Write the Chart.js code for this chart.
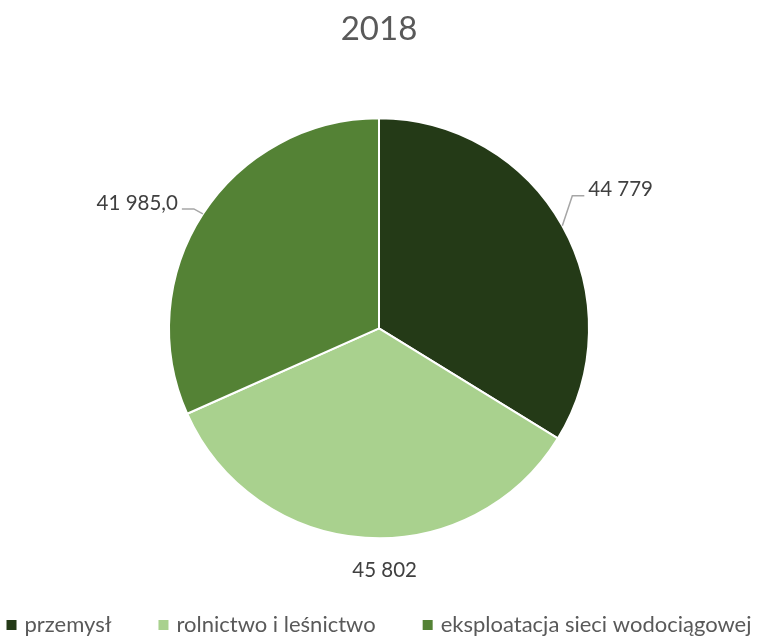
<!DOCTYPE html>
<html><head><meta charset="utf-8">
<script src="https://cdn.jsdelivr.net/npm/chart.js@4"></script>
<style>html,body{margin:0;padding:0;background:#fff}canvas{display:block}</style>
</head><body>
<canvas id="c" width="758" height="637"></canvas>
<script>
const chartTitle = '2018';
const categories = ['przemysł', 'rolnictwo i leśnictwo', 'eksploatacja sieci wodociągowej'];
const values = [44779, 45802, 41985.0];
const valueDecimals = [0, 0, 1];
const colors = ['#243A17', '#A9D18E', '#548235'];

const FONT = 'Lato, "Open Sans", sans-serif';

function formatPL(v, dec) {
  const parts = v.toFixed(dec).split('.');
  const int = parts[0].replace(/\B(?=(\d{3})+(?!\d))/g, ' ');
  return parts.length > 1 ? int + ',' + parts[1] : int;
}

const sliceLabels = {
  id: 'sliceLabels',
  afterDatasetsDraw(chart, args, opts) {
    const ctx = chart.ctx;
    const meta = chart.getDatasetMeta(0);
    const ds = chart.data.datasets[0];
    ctx.save();
    ctx.font = opts.fontSize + 'px ' + FONT;
    ctx.textBaseline = 'middle';
    meta.data.forEach((arc, i) => {
      const p = arc.getProps(['x', 'y', 'startAngle', 'endAngle', 'outerRadius'], true);
      const mid = (p.startAngle + p.endAngle) / 2;
      const ex = p.x + Math.cos(mid) * p.outerRadius;
      const ey = p.y + Math.sin(mid) * p.outerRadius;
      const o = opts.offsets[i];
      const ax = ex + o.dx, ay = ey + o.dy;
      if (o.line) {
        const s = o.align === 'left' ? 1 : -1;
        ctx.strokeStyle = opts.lineColor;
        ctx.lineWidth = 1.5;
        ctx.beginPath();
        ctx.moveTo(ex, ey);
        ctx.lineTo(ax - s * 16, ay + 6);
        ctx.lineTo(ax - s * 4, ay + 6);
        ctx.stroke();
      }
      ctx.fillStyle = opts.color;
      ctx.textAlign = o.align;
      ctx.fillText(formatPL(ds.data[i], valueDecimals[i]), ax, ay);
    });
    ctx.restore();
  }
};

const customLegend = {
  id: 'customLegend',
  afterDraw(chart, args, opts) {
    const ctx = chart.ctx;
    const ds = chart.data.datasets[0];
    ctx.save();
    ctx.font = opts.fontSize + 'px ' + FONT;
    ctx.textBaseline = 'middle';
    ctx.textAlign = 'left';
    const widths = chart.data.labels.map(l => ctx.measureText(l).width);
    const itemW = widths.map(w => opts.box + opts.boxGap + w);
    const total = itemW.reduce((a, b) => a + b, 0) + opts.itemGap * (itemW.length - 1);
    let x = (chart.width - total) / 2;
    const y = opts.y;
    chart.data.labels.forEach((l, i) => {
      ctx.fillStyle = ds.backgroundColor[i];
      ctx.fillRect(x, y - opts.box / 2, opts.box, opts.box);
      ctx.fillStyle = opts.color;
      ctx.fillText(l, x + opts.box + opts.boxGap, y);
      x += itemW[i] + opts.itemGap;
    });
    ctx.restore();
  }
};

new Chart(document.getElementById('c'), {
  type: 'pie',
  data: {
    labels: categories,
    datasets: [{
      data: values,
      backgroundColor: colors,
      borderColor: '#ffffff',
      borderWidth: 2,
      radius: 210
    }]
  },
  options: {
    responsive: false,
    animation: false,
    events: [],
    layout: { padding: { top: 0, bottom: 40, left: 0, right: 0 } },
    plugins: {
      legend: { display: false },
      tooltip: { enabled: false },
      title: {
        display: true,
        text: chartTitle,
        color: '#595959',
        font: { family: FONT, size: 33, weight: 'normal' },
        padding: { top: 10, bottom: 10 }
      },
      sliceLabels: {
        fontSize: 20.5,
        color: '#404040',
        lineColor: '#A6A6A6',
        offsets: [
          { dx: 26, dy: -36, align: 'left', line: true },
          { dx: 19.5, dy: 32.5, align: 'center', line: false },
          { dx: -25, dy: -11, align: 'right', line: true }
        ]
      },
      customLegend: {
        fontSize: 22,
        color: '#595959',
        y: 625,
        box: 10,
        boxGap: 8,
        itemGap: 47
      }
    }
  },
  plugins: [sliceLabels, customLegend]
});
</script>
</body></html>
